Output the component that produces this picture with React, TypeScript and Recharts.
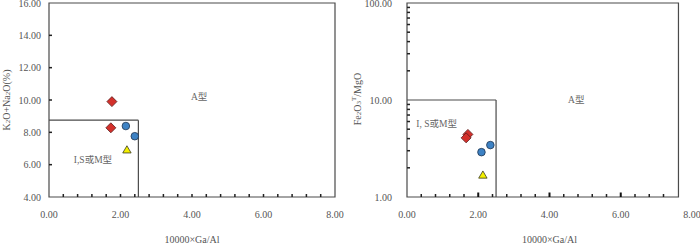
import React from 'react';
import { ScatterChart, Scatter, XAxis, YAxis, ReferenceArea, ReferenceLine, ReferenceDot } from 'recharts';

// ---- data ----
const xLabelTicks = [0, 2, 4, 6, 8];
const leftMinorXTicks = [0.4, 0.8, 1.2, 1.6, 2.0, 2.4, 2.8, 3.2, 3.6, 4.0, 4.4, 4.8, 5.2, 5.6, 6.0, 6.4, 6.8, 7.2, 7.6];
const rightMinorXTicks = [0.4, 0.8, 1.2, 1.6, 2.4, 2.8, 3.2, 3.6, 4.4, 4.8, 5.2, 5.6, 6.4, 6.8, 7.2];
const rightMajorXTicks = [2, 4, 6];
const leftYTicks = [4, 6, 8, 10, 12, 14, 16];
const leftYInnerTicks = [6, 8, 10, 12, 14];
const rightYLabelTicks = [1, 10, 100];
const rightYMinorTicks = [2, 3, 4, 5, 6, 7, 8, 9, 20, 30, 40, 50, 60, 70, 80, 90];

const leftDiamonds = [{ x: 1.76, y: 9.9 }, { x: 1.73, y: 8.28 }];
const leftCircles = [{ x: 2.15, y: 8.39 }, { x: 2.4, y: 7.76 }];
const leftTriangles = [{ x: 2.18, y: 6.91 }];

const rightDiamonds = [{ x: 1.71, y: 4.42 }, { x: 1.66, y: 4.07 }];
const rightCircles = [{ x: 2.09, y: 2.9 }, { x: 2.34, y: 3.43 }];
const rightTriangles = [{ x: 2.13, y: 1.68 }];

const leftBoxX = 2.5;
const leftBoxY = 8.75;
const rightBoxX = 2.5;
const rightBoxY = 10;

const FONT = '"Liberation Serif", "Times New Roman", "Noto Sans CJK SC", serif';
const TXT = '#555';
const LINE = '#4a4a4a';

const Diamond = (p: any) => {
  const { cx, cy } = p;
  const r = 5;
  return <path d={`M${cx},${cy - r}L${cx + r},${cy}L${cx},${cy + r}L${cx - r},${cy}Z`} fill="#d3302b" stroke="#5a2020" strokeWidth={0.8} />;
};
const Circle = (p: any) => <circle cx={p.cx} cy={p.cy} r={3.8} fill="#3d82c4" stroke="#1f3550" strokeWidth={0.8} />;
const Triangle = (p: any) => {
  const { cx, cy } = p;
  return <path d={`M${cx},${cy - 4.2}L${cx + 4.2},${cy + 3}L${cx - 4.2},${cy + 3}Z`} fill="#f4f000" stroke="#3a3a20" strokeWidth={0.8} />;
};
// tick-mark shapes (drawn through the chart scales)
const XMinorMark = (p: any) => <rect x={p.cx - 0.75} y={p.cy - 3} width={1.5} height={3} fill="#222" />;
const XMajorMark = (p: any) => <rect x={p.cx - 1} y={p.cy - 4.5} width={2} height={4.5} fill="#111" />;
const YMark = (p: any) => <rect x={p.cx} y={p.cy - 0.75} width={3} height={1.5} fill="#222" />;

const fmt = (v: number) => v.toFixed(2);
const near = (arr: number[], v: number) => arr.some((m) => Math.abs(m - Number(v)) < 1e-6);

const XTick = (props: any) => {
  const { x, y, payload } = props;
  const v = Number(payload.value);
  if (!near(xLabelTicks, v)) return <g />;
  return (
    <text x={x} y={y + 17} textAnchor="middle" dominantBaseline="central" fontSize={10} fill={TXT} fontFamily={FONT}>
      {fmt(v)}
    </text>
  );
};

const makeYTick = (gap: number) => (props: any) => {
  const { x, y, payload } = props;
  const v = Number(payload.value);
  return (
    <text x={x - gap} y={y} textAnchor="end" dominantBaseline="central" fontSize={10} fill={TXT} fontFamily={FONT}>
      {fmt(v)}
    </text>
  );
};

const XTitle = (props: any) => {
  const vb = props.viewBox;
  return (
    <text x={vb.x + vb.width / 2} y={239} textAnchor="middle" dominantBaseline="central" fontSize={10} fill={TXT} fontFamily={FONT}>
      10000×Ga/Al
    </text>
  );
};

const LeftYTitle = () => (
  <text transform="translate(6,100) rotate(-90)" textAnchor="middle" dominantBaseline="central" fontSize={10} fill={TXT} fontFamily={FONT}>
    K<tspan fontSize={7} dy={2}>2</tspan>
    <tspan dy={-2}>O+Na</tspan>
    <tspan fontSize={7} dy={2}>2</tspan>
    <tspan dy={-2}>O(%)</tspan>
  </text>
);

const RightYTitle = () => (
  <text transform="translate(7,99) rotate(-90)" textAnchor="middle" dominantBaseline="central" fontSize={10} fill={TXT} fontFamily={FONT}>
    Fe<tspan fontSize={7} dy={2}>2</tspan>
    <tspan dy={-2}>O</tspan>
    <tspan fontSize={7} dy={2}>3</tspan>
    <tspan fontSize={7} dy={-5}>T</tspan>
    <tspan dy={3}>/MgO</tspan>
  </text>
);

const regionLabel = (text: string) => ({
  value: text,
  position: 'center' as const,
  fontSize: 9.5,
  fill: '#666',
  fontFamily: FONT,
});

const leftXMinorData = leftMinorXTicks.map((v) => ({ x: v, y: 4 }));
const leftYMarkData = leftYInnerTicks.map((v) => ({ x: 0, y: v }));
const rightXMinorData = rightMinorXTicks.map((v) => ({ x: v, y: 1 }));
const rightXMajorData = rightMajorXTicks.map((v) => ({ x: v, y: 1 }));
const rightYMarkData = rightYMinorTicks.map((v) => ({ x: 0, y: v }));

export default function App() {
  return (
    <div style={{ position: 'fixed', left: 0, top: 0, width: 700, height: 244, background: '#fff' }}>
      <div style={{ position: 'absolute', left: 0, top: 0 }}>
        <ScatterChart width={350} height={244} margin={{ top: 3, right: 15, bottom: 17, left: 0 }}>
          <XAxis
            type="number"
            dataKey="x"
            domain={[0, 8]}
            ticks={xLabelTicks}
            interval={0}
            axisLine={false}
            tickLine={false}
            tickSize={0}
            tickMargin={0}
            height={30}
            tick={XTick}
            label={<XTitle />}
          />
          <YAxis
            type="number"
            dataKey="y"
            domain={[4, 16]}
            ticks={leftYTicks}
            interval={0}
            axisLine={false}
            tickLine={false}
            tickSize={0}
            tickMargin={0}
            width={49}
            tick={makeYTick(8)}
            label={<LeftYTitle />}
          />
          <ReferenceArea x1={0} x2={8} y1={4} y2={16} fill="none" stroke={LINE} strokeWidth={1.2} fillOpacity={0} />
          <ReferenceLine segment={[{ x: 0, y: leftBoxY }, { x: leftBoxX, y: leftBoxY }]} stroke={LINE} strokeWidth={1.2} />
          <ReferenceLine segment={[{ x: leftBoxX, y: 4 }, { x: leftBoxX, y: leftBoxY }]} stroke={LINE} strokeWidth={1.2} />
          <ReferenceDot x={4.2} y={10.2} r={0} fill="none" stroke="none" label={regionLabel('A型')} />
          <ReferenceDot x={1.23} y={6.3} r={0} fill="none" stroke="none" label={regionLabel('I,S或M型')} />
          <Scatter data={leftXMinorData} shape={XMinorMark} isAnimationActive={false} />
          <Scatter data={leftYMarkData} shape={YMark} isAnimationActive={false} />
          <Scatter data={leftDiamonds} shape={Diamond} isAnimationActive={false} />
          <Scatter data={leftCircles} shape={Circle} isAnimationActive={false} />
          <Scatter data={leftTriangles} shape={Triangle} isAnimationActive={false} />
        </ScatterChart>
      </div>
      <div style={{ position: 'absolute', left: 350, top: 0 }}>
        <ScatterChart width={350} height={244} margin={{ top: 3, right: 8, bottom: 17, left: 0 }}>
          <XAxis
            type="number"
            dataKey="x"
            domain={[0, 8]}
            ticks={xLabelTicks}
            interval={0}
            axisLine={false}
            tickLine={false}
            tickSize={0}
            tickMargin={0}
            height={30}
            tick={XTick}
            label={<XTitle />}
          />
          <YAxis
            type="number"
            dataKey="y"
            scale="log"
            domain={[1, 100]}
            allowDataOverflow
            ticks={rightYLabelTicks}
            interval={0}
            axisLine={false}
            tickLine={false}
            tickSize={0}
            tickMargin={0}
            width={57}
            tick={makeYTick(15)}
            label={<RightYTitle />}
          />
          <ReferenceArea x1={0} x2={7.62} y1={1} y2={100} fill="none" stroke={LINE} strokeWidth={1.2} fillOpacity={0} />
          <ReferenceLine segment={[{ x: 0, y: rightBoxY }, { x: rightBoxX, y: rightBoxY }]} stroke={LINE} strokeWidth={1.2} />
          <ReferenceLine segment={[{ x: rightBoxX, y: 1 }, { x: rightBoxX, y: rightBoxY }]} stroke={LINE} strokeWidth={1.2} />
          <ReferenceDot x={4.75} y={10} r={0} fill="none" stroke="none" label={regionLabel('A型')} />
          <ReferenceDot x={0.83} y={5.65} r={0} fill="none" stroke="none" label={regionLabel('I, S或M型')} />
          <Scatter data={rightXMinorData} shape={XMinorMark} isAnimationActive={false} />
          <Scatter data={rightXMajorData} shape={XMajorMark} isAnimationActive={false} />
          <Scatter data={rightYMarkData} shape={YMark} isAnimationActive={false} />
          <Scatter data={rightDiamonds} shape={Diamond} isAnimationActive={false} />
          <Scatter data={rightCircles} shape={Circle} isAnimationActive={false} />
          <Scatter data={rightTriangles} shape={Triangle} isAnimationActive={false} />
        </ScatterChart>
      </div>
    </div>
  );
}
